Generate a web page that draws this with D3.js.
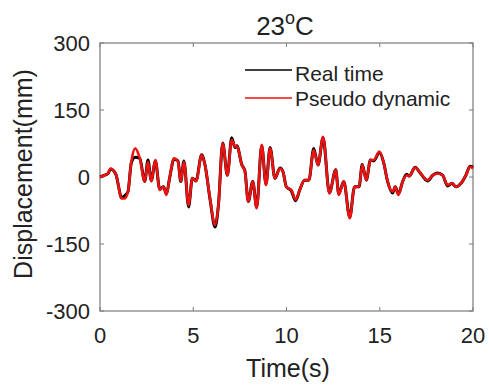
<!DOCTYPE html>
<html><head><meta charset="utf-8">
<script src="https://cdn.jsdelivr.net/npm/d3@7"></script>
<style>body{margin:0;background:#fff}svg{display:block}text{font-family:Arial,"Liberation Sans",sans-serif;fill:#222}</style>
</head><body><svg id="c" width="489" height="385"></svg>
<script>
const xTicks = [0, 5, 10, 15, 20];
const yTicks = [-300, -150, 0, 150, 300];
const pseudoT = [0,0.25,0.43,0.57,0.75,0.87,1.0,1.14,1.32,1.5,1.68,1.89,2.13,2.4,2.57,2.75,2.97,3.2,3.41,3.56,3.73,3.97,4.18,4.33,4.5,4.75,4.95,5.15,5.45,5.63,5.9,6.17,6.35,6.58,6.83,7.06,7.24,7.34,7.6,7.77,7.95,8.19,8.4,8.67,8.9,9.12,9.38,9.65,9.81,9.99,10.26,10.49,10.71,10.97,11.2,11.46,11.69,11.96,12.3,12.64,12.8,13.07,13.39,13.65,13.89,14.06,14.28,14.5,14.68,14.98,15.2,15.42,15.69,15.83,16.0,16.23,16.44,16.58,16.9,17.12,17.57,17.84,18.1,18.37,18.64,18.87,19.09,19.36,19.62,19.84,20];
const pseudoV = [0,4,8,19,13,4,-22,-48,-48,-33,34,64,42,-10,34,-10,38,-29,-22,-40,-3,42,34,-10,34,-63,-3,-10,49,27,-48,-107,-63,75,4,83,68,70,27,12,-55,-10,-70,72,-18,64,-3,19,12,-22,-29,-51,-29,-7,-7,60,27,90,-37,16,-40,-10,-92,-22,-22,27,-7,38,38,57,34,-10,-33,-22,-40,-10,4,2,21,12,-7,4,8,4,-18,-14,-22,-14,4,23,19];
const realV = [0,4,8,18,13,4,-22,-46,-42,-33,32,44,42,-10,38,-8,36,-27,-22,-38,-3,40,36,-10,36,-67,-3,-8,50,27,-50,-112,-63,76,4,88,66,70,28,14,-55,-10,-68,70,-16,66,-3,20,12,-22,-31,-53,-29,-7,-7,64,27,88,-35,16,-38,-10,-90,-22,-22,28,-7,38,36,55,34,-10,-36,-22,-38,-10,6,2,22,12,-9,4,9,4,-20,-14,-22,-14,4,24,22];

const svg = d3.select("#c");
const L = 100, R = 473, T = 43, B = 311;
const x = d3.scaleLinear().domain([0, 20]).range([L, R]);
const y = d3.scaleLinear().domain([-300, 300]).range([B, T]);
const axisColor = "#7a7a7a";

svg.append("rect").attr("x", L).attr("y", T).attr("width", R - L).attr("height", B - T)
  .attr("fill", "none").attr("stroke", axisColor).attr("stroke-width", 1.2);

xTicks.forEach(t => {
  svg.append("line").attr("x1", x(t)).attr("x2", x(t)).attr("y1", B).attr("y2", B - 4).attr("stroke", axisColor);
  svg.append("line").attr("x1", x(t)).attr("x2", x(t)).attr("y1", T).attr("y2", T + 4).attr("stroke", axisColor);
  svg.append("text").attr("x", x(t)).attr("y", 343).attr("text-anchor", "middle").attr("font-size", 22).text(t);
});
yTicks.forEach(t => {
  svg.append("line").attr("x1", L).attr("x2", L + 4).attr("y1", y(t)).attr("y2", y(t)).attr("stroke", axisColor);
  svg.append("line").attr("x1", R).attr("x2", R - 4).attr("y1", y(t)).attr("y2", y(t)).attr("stroke", axisColor);
  svg.append("text").attr("x", 90).attr("y", y(t) + 8).attr("text-anchor", "end").attr("font-size", 22).text(t);
});

const realData = pseudoT.map((t, i) => [t, realV[i]]);
const pseudoData = pseudoT.map((t, i) => [t, pseudoV[i]]);
const line = d3.line().x(d => x(d[0])).y(d => y(d[1])).curve(d3.curveMonotoneX);

svg.append("path").datum(realData).attr("d", line).attr("fill", "none").attr("stroke", "#000").attr("stroke-width", 3);
svg.append("path").datum(pseudoData).attr("d", line).attr("fill", "none").attr("stroke", "#ee1111").attr("stroke-width", 2.6);

svg.append("line").attr("x1", 245).attr("x2", 292).attr("y1", 70).attr("y2", 70).attr("stroke", "#000").attr("stroke-width", 1.6);
svg.append("text").attr("x", 295).attr("y", 81).attr("font-size", 21).text("Real time");
svg.append("line").attr("x1", 245).attr("x2", 292).attr("y1", 98).attr("y2", 98).attr("stroke", "#ee1111").attr("stroke-width", 1.6);
svg.append("text").attr("x", 295).attr("y", 106).attr("font-size", 21).text("Pseudo dynamic");

const title = svg.append("text").attr("x", 285).attr("y", 35).attr("text-anchor", "middle").attr("font-size", 26);
title.append("tspan").text("23");
title.append("tspan").attr("dy", -11).attr("font-size", 18).text("o");
title.append("tspan").attr("dy", 11).text("C");

svg.append("text").attr("x", 288).attr("y", 377).attr("text-anchor", "middle").attr("font-size", 25).text("Time(s)");
svg.append("text").attr("transform", "translate(32,174) rotate(-90)").attr("text-anchor", "middle").attr("font-size", 25).text("Displacement(mm)");
</script></body></html>
